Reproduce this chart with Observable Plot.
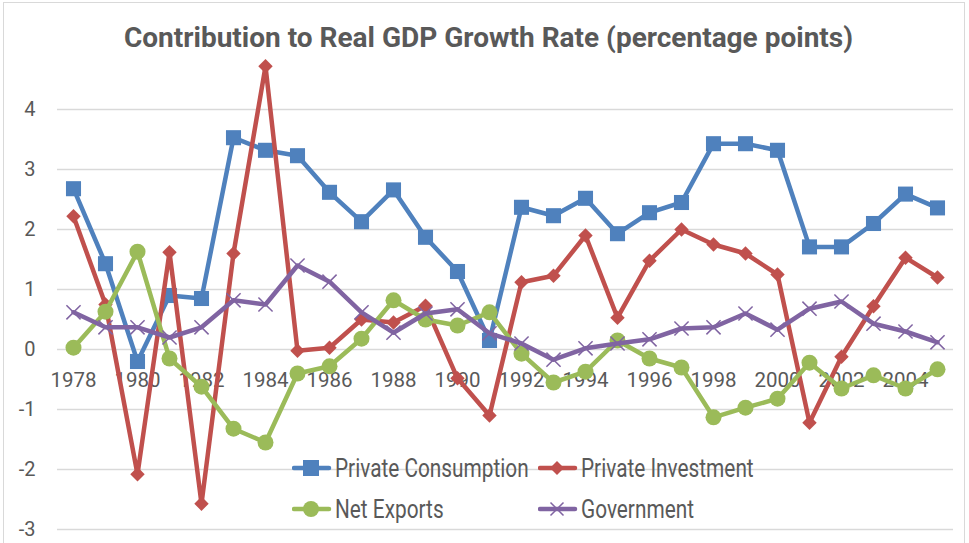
<!DOCTYPE html>
<html>
<head>
<meta charset="utf-8">
<script src="https://cdn.jsdelivr.net/npm/d3@7"></script>
<script src="https://cdn.jsdelivr.net/npm/@observablehq/plot@0.6"></script>
<style>
  html, body { margin: 0; padding: 0; background: #fff; }
  #wrap { position: relative; width: 969px; height: 543px; overflow: hidden; background: #fff; font-family: Roboto, "Open Sans", sans-serif; }
  #frame { position: absolute; left: 3px; top: 2px; width: 962px; height: 560px; border: 1.5px solid #d9d9d9; box-sizing: border-box; }
  #title { position: absolute; left: 0; width: 977px; top: 21px; text-align: center; font-weight: bold; font-size: 28px; color: #595959; white-space: nowrap; }
  #chart { position: absolute; left: 0; top: 0; }
  .leg { position: absolute; display: flex; align-items: center; font-size: 26px; color: #595959; white-space: nowrap; }
  .leg svg { flex: none; }
  .leg span { display: inline-block; transform: scaleX(0.8); transform-origin: left center; margin-left: 3px; }
</style>
</head>
<body>
<div id="wrap">
  <div id="frame"></div>
  <div id="chart"></div>
  <div id="title">Contribution to Real GDP Growth Rate (percentage points)</div>
  <div id="legend"></div>
</div>
<script>
const years = [1978,1979,1980,1981,1982,1983,1984,1985,1986,1987,1988,1989,1990,1991,1992,1993,1994,1995,1996,1997,1998,1999,2000,2001,2002,2003,2004,2005];
const privateConsumption = [2.68,1.43,-0.2,0.9,0.85,3.53,3.32,3.23,2.62,2.13,2.66,1.87,1.3,0.15,2.37,2.23,2.52,1.93,2.28,2.45,3.43,3.43,3.32,1.71,1.71,2.1,2.59,2.36];
const privateInvestment = [2.22,0.75,-2.08,1.62,-2.57,1.6,4.72,-0.02,0.03,0.5,0.45,0.73,-0.48,-1.1,1.12,1.23,1.9,0.53,1.48,2.0,1.75,1.6,1.25,-1.22,-0.12,0.72,1.53,1.2];
const netExports = [0.03,0.63,1.63,-0.15,-0.62,-1.32,-1.55,-0.4,-0.28,0.18,0.82,0.5,0.4,0.62,-0.07,-0.55,-0.37,0.15,-0.15,-0.3,-1.13,-0.97,-0.82,-0.22,-0.65,-0.43,-0.65,-0.33];
const government = [0.62,0.37,0.37,0.2,0.37,0.82,0.75,1.4,1.13,0.62,0.28,0.6,0.67,0.27,0.1,-0.17,0.02,0.1,0.17,0.35,0.37,0.6,0.33,0.68,0.8,0.43,0.3,0.12];
const yTicks = [-3,-2,-1,0,1,2,3,4];
const xTickLabels = [1978,1980,1982,1984,1986,1988,1990,1992,1994,1996,1998,2000,2002,2004];
const seriesNames = ["Private Consumption","Private Investment","Net Exports","Government"];
const seriesColors = ["#4F81BD","#C0504D","#9BBB59","#8064A2"];

const symbols = ["square","diamond2","circle","times"];
const radii = [8.5, 6.5, 8, 6.5];

const table = years.map((yr, i) => ({year: yr, pc: privateConsumption[i], pi: privateInvestment[i], ne: netExports[i], gov: government[i]}));
const keys = ["pc","pi","ne","gov"];

const seriesMarks = keys.flatMap((k, i) => {
  const stroked = symbols[i] === "times";
  return [
    Plot.line(table, {x: "year", y: k, stroke: seriesColors[i], strokeWidth: 4.5, strokeLinejoin: "round", strokeLinecap: "round"}),
    Plot.dot(table, stroked
      ? {x: "year", y: k, symbol: symbols[i], r: radii[i], stroke: seriesColors[i], strokeWidth: 1.5, fill: "none"}
      : {x: "year", y: k, symbol: symbols[i], r: radii[i], fill: seriesColors[i], stroke: "none"})
  ];
});

const plot = Plot.plot({
  width: 969,
  height: 543,
  marginLeft: 57,
  marginRight: 16,
  marginTop: 49,
  marginBottom: 14,
  style: {fontFamily: "Roboto, 'Open Sans', sans-serif", background: "transparent", overflow: "visible"},
  x: {domain: [1977.5, 2005.5], axis: null},
  y: {domain: [-3, 5], axis: null},
  marks: [
    Plot.gridY(yTicks, {stroke: "#d9d9d9", strokeOpacity: 1, strokeWidth: 1.5}),
    Plot.axisY(yTicks, {tickSize: 0, tickPadding: 22, fontSize: 20, fill: "#595959", label: null, tickFormat: d => String(d)}),
    Plot.text(xTickLabels, {x: d => d, y: 0, dy: 31, fontSize: 20.5, fill: "#595959", text: d => String(d)}),
    ...seriesMarks
  ]
});
document.getElementById("chart").appendChild(plot);

// legend
const legendPos = [[292, 469], [538, 469], [292, 510], [538, 510]];
const legend = document.getElementById("legend");
seriesNames.forEach((name, i) => {
  const div = document.createElement("div");
  div.className = "leg";
  div.style.left = legendPos[i][0] + "px";
  div.style.top = (legendPos[i][1] - 16) + "px";
  div.style.height = "30px";
  const c = seriesColors[i];
  let marker;
  if (symbols[i] === "square") marker = `<rect x="11" y="7" width="16" height="16" fill="${c}"/>`;
  else if (symbols[i] === "diamond2") marker = `<path d="M19 8 L26 15 L19 22 L12 15 Z" fill="${c}"/>`;
  else if (symbols[i] === "circle") marker = `<circle cx="19" cy="15" r="8" fill="${c}"/>`;
  else marker = `<path d="M12.5 8.5 L25.5 21.5 M25.5 8.5 L12.5 21.5" stroke="${c}" stroke-width="1.5"/>`;
  div.innerHTML = `<svg width="40" height="30"><line x1="2" y1="15" x2="37" y2="15" stroke="${c}" stroke-width="4.5" stroke-linecap="round"/>${marker}</svg><span>${name}</span>`;
  legend.appendChild(div);
});
</script>
</body>
</html>
